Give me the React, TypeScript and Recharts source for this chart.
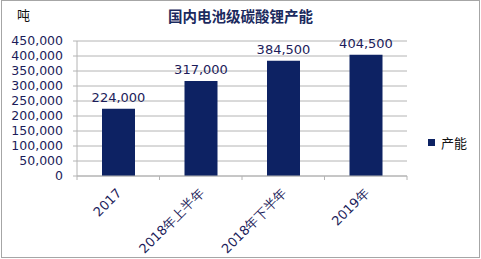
import { BarChart, Bar, XAxis, YAxis, CartesianGrid, Legend, LabelList } from "recharts";

const categories = ["2017", "2018年上半年", "2018年下半年", "2019年"];
const capacity = [224000, 317000, 384500, 404500];
const yTicks = [0, 50000, 100000, 150000, 200000, 250000, 300000, 350000, 400000, 450000];
const seriesName = "产能";
const chartTitle = "国内电池级碳酸锂产能";
const unitLabel = "吨";

const data = categories.map((name, i) => ({ name, value: capacity[i] }));

const NAVY = "#0d2263";
const TEXT = "#1c1c5a";
const GRID = "#b4b4b4";
const FONT = "'DejaVu Sans', Verdana, sans-serif";

const fmt = (v: number) => v.toLocaleString("en-US");

const CategoryTick = (props: any) => {
  const { x, y, payload, index, visibleTicksCount } = props;
  const half = payload?.offset || 41.25;
  const last = index === (visibleTicksCount ?? categories.length) - 1;
  return (
    <g>
      <line x1={x - half} x2={x - half} y1={y} y2={y + 4} stroke={GRID} />
      {last && <line x1={x + half} x2={x + half} y1={y} y2={y + 4} stroke={GRID} />}
      <text
        x={x + 4}
        y={y + 18}
        transform={`rotate(-45 ${x + 4} ${y + 18})`}
        textAnchor="end"
        fontSize={13}
        fontFamily={FONT}
        fill={TEXT}
      >
        {payload.value}
      </text>
    </g>
  );
};

const LegendContent = () => (
  <div style={{ display: "flex", alignItems: "center", fontFamily: "'Noto Sans CJK SC', sans-serif", fontSize: 13, color: "#111" }}>
    <span style={{ width: 7, height: 7, background: NAVY, display: "inline-block", marginRight: 6 }} />
    {seriesName}
  </div>
);

export default function App() {
  return (
    <div style={{ position: "absolute", left: 0, top: 0, width: 481, height: 259, background: "#fff" }}>
      <BarChart
        width={481}
        height={259}
        data={data}
        margin={{ top: 41, right: 74, bottom: 0, left: 0 }}
      >
        <CartesianGrid vertical={false} stroke={GRID} />
        <XAxis
          dataKey="name"
          height={83}
          interval={0}
          axisLine={{ stroke: GRID }}
          tickLine={false}
          tickSize={0}
          tickMargin={0}
          tick={<CategoryTick />}
        />
        <YAxis
          width={77}
          domain={[0, 450000]}
          ticks={yTicks}
          interval={0}
          axisLine={{ stroke: GRID }}
          tickLine={{ stroke: GRID }}
          tickSize={4}
          tickMargin={10}
          tickFormatter={fmt}
          tick={{ fontSize: 12.5, fontFamily: FONT, fill: TEXT }}
        />
        <Legend
          layout="horizontal"
          verticalAlign="middle"
          align="center"
          content={<LegendContent />}
          wrapperStyle={{ left: 428, top: 133, width: 50 }}
        />
        <Bar dataKey="value" name={seriesName} fill={NAVY} barSize={33} isAnimationActive={false}>
          <LabelList
            dataKey="value"
            position="top"
            offset={7}
            formatter={(v: any) => fmt(Number(v))}
            style={{ fontSize: 13, fontFamily: FONT, fill: TEXT }}
          />
        </Bar>
      </BarChart>
      <div
        style={{
          position: "absolute",
          left: 0,
          top: 5,
          width: 481,
          textAlign: "center",
          fontFamily: "'Noto Sans CJK SC', sans-serif",
          fontWeight: 700,
          fontSize: 14.5,
          color: "#1b2a5e",
        }}
      >
        {chartTitle}
      </div>
      <div
        style={{
          position: "absolute",
          left: 17,
          top: 5,
          fontFamily: "'Noto Sans CJK SC', sans-serif",
          fontSize: 13,
          color: "#111",
        }}
      >
        {unitLabel}
      </div>
      <div
        style={{
          position: "absolute",
          left: 1,
          top: 0,
          width: 479,
          height: 258,
          boxSizing: "border-box",
          border: "1px solid #a6a6a6",
          pointerEvents: "none",
        }}
      />
    </div>
  );
}
